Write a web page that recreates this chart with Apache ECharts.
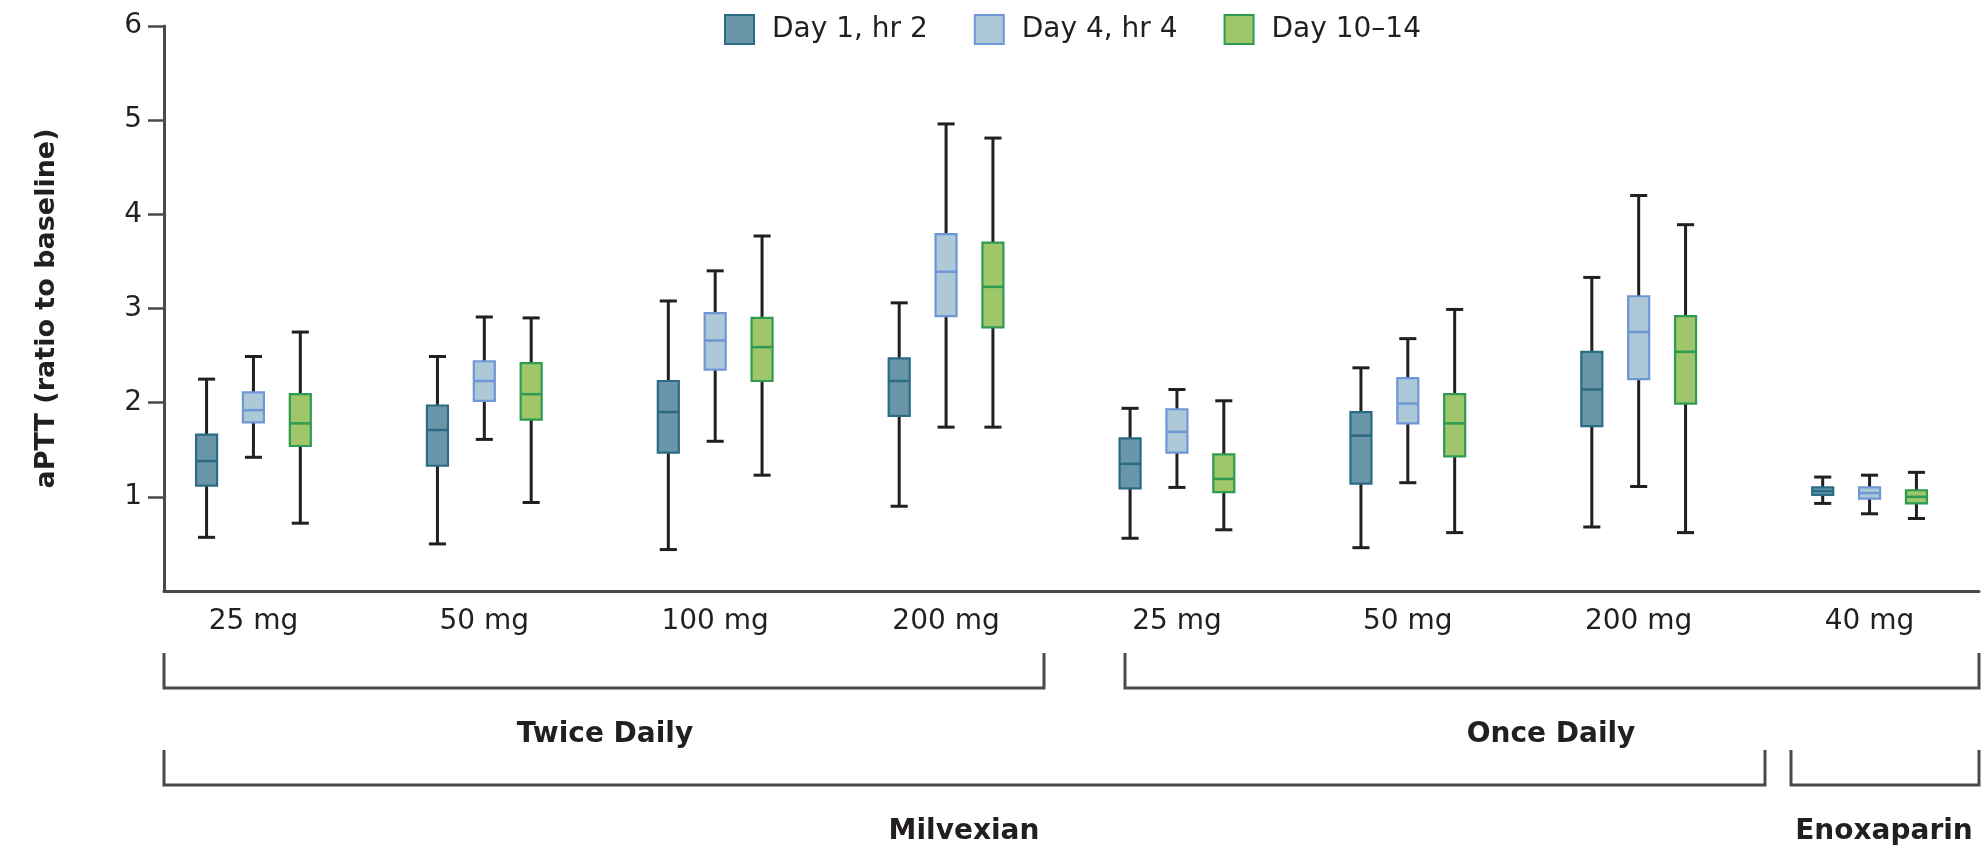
<!DOCTYPE html>
<html>
<head>
<meta charset="utf-8">
<title>aPTT ratio to baseline</title>
<script src="https://cdn.jsdelivr.net/npm/echarts@6.0.0/dist/echarts.min.js"></script>
<style>
  html, body { margin: 0; padding: 0; background: #ffffff; }
  #chart { width: 1985px; height: 852px; }
</style>
</head>
<body>
<div id="chart"></div>
<script>
// Dose groups along the x axis
const categories = ['25 mg', '50 mg', '100 mg', '200 mg', '25 mg', '50 mg', '200 mg', '40 mg'];
const yTicks = [1, 2, 3, 4, 5, 6];

// Box statistics per dose group: [min, Q1, median, Q3, max]
const day1Hr2 = [
  [0.57, 1.12, 1.38, 1.66, 2.25],
  [0.50, 1.33, 1.71, 1.97, 2.49],
  [0.44, 1.47, 1.90, 2.23, 3.08],
  [0.90, 1.86, 2.23, 2.47, 3.06],
  [0.56, 1.09, 1.35, 1.62, 1.94],
  [0.46, 1.14, 1.65, 1.90, 2.37],
  [0.68, 1.75, 2.14, 2.54, 3.33],
  [0.93, 1.02, 1.06, 1.10, 1.21]
];
const day4Hr4 = [
  [1.42, 1.79, 1.92, 2.11, 2.49],
  [1.61, 2.02, 2.23, 2.44, 2.91],
  [1.59, 2.35, 2.66, 2.95, 3.40],
  [1.74, 2.92, 3.39, 3.79, 4.96],
  [1.10, 1.47, 1.69, 1.93, 2.14],
  [1.15, 1.78, 1.99, 2.26, 2.68],
  [1.11, 2.25, 2.75, 3.13, 4.20],
  [0.82, 0.98, 1.04, 1.10, 1.23]
];
const day10to14 = [
  [0.72, 1.54, 1.78, 2.09, 2.75],
  [0.94, 1.82, 2.09, 2.42, 2.90],
  [1.23, 2.23, 2.59, 2.90, 3.77],
  [1.74, 2.80, 3.23, 3.70, 4.81],
  [0.65, 1.05, 1.19, 1.45, 2.02],
  [0.62, 1.43, 1.78, 2.09, 2.99],
  [0.62, 1.99, 2.54, 2.92, 3.89],
  [0.77, 0.93, 1.00, 1.07, 1.26]
];

const seriesNames = ['Day 1, hr 2', 'Day 4, hr 4', 'Day 10\u201314'];

const FONT = 'DejaVu Sans';
const INK = '#231f20';
const AXIS_GRAY = '#4a4a4a';

const styles = [
  { fill: '#6a96a9', stroke: '#2b6b84', offset: -0.203 },
  { fill: '#adc8d6', stroke: '#6e97d6', offset: 0 },
  { fill: '#9fc66b', stroke: '#2f9a52', offset: 0.203 }
];

const BOX_FRAC = 0.091;
const CAP_FRAC = 0.074;

function toRows(stats) {
  return stats.map((s, i) => [i].concat(s));
}

function boxRenderer(style) {
  return function (params, api) {
    const idx = api.value(0);
    const band = api.size([1, 0])[0];
    const cx = api.coord([idx, 0])[0] + style.offset * band;
    const yMin = api.coord([idx, api.value(1)])[1];
    const yQ1 = api.coord([idx, api.value(2)])[1];
    const yMed = api.coord([idx, api.value(3)])[1];
    const yQ3 = api.coord([idx, api.value(4)])[1];
    const yMax = api.coord([idx, api.value(5)])[1];
    const half = band * BOX_FRAC / 2;
    const cap = band * CAP_FRAC / 2;
    const whisker = { stroke: INK, lineWidth: 3 };
    return {
      type: 'group',
      children: [
        { type: 'line', shape: { x1: cx, y1: yMax, x2: cx, y2: yQ3 }, style: whisker },
        { type: 'line', shape: { x1: cx, y1: yQ1, x2: cx, y2: yMin }, style: whisker },
        { type: 'line', shape: { x1: cx - cap, y1: yMax, x2: cx + cap, y2: yMax }, style: whisker },
        { type: 'line', shape: { x1: cx - cap, y1: yMin, x2: cx + cap, y2: yMin }, style: whisker },
        {
          type: 'rect',
          shape: { x: cx - half, y: yQ3, width: half * 2, height: yQ1 - yQ3 },
          style: { fill: style.fill, stroke: style.stroke, lineWidth: 2.2 }
        },
        {
          type: 'line',
          shape: { x1: cx - half, y1: yMed, x2: cx + half, y2: yMed },
          style: { stroke: style.stroke, lineWidth: 2.5 }
        }
      ]
    };
  };
}

const allStats = [day1Hr2, day4Hr4, day10to14];

const series = allStats.map((stats, k) => ({
  name: seriesNames[k],
  type: 'custom',
  xAxisIndex: 0,
  yAxisIndex: 0,
  renderItem: boxRenderer(styles[k]),
  itemStyle: { color: styles[k].fill, borderColor: styles[k].stroke, borderWidth: 2 },
  encode: { x: 0, y: [1, 2, 3, 4, 5] },
  data: toRows(stats),
  z: 3
}));

// Group brackets beneath the dose labels
function bracket(x1, x2, yTop, yLine) {
  return {
    type: 'polyline',
    shape: { points: [[x1, yTop], [x1, yLine], [x2, yLine], [x2, yTop]] },
    style: { stroke: AXIS_GRAY, lineWidth: 3, fill: null }
  };
}
function groupLabel(text, x, y) {
  return {
    type: 'text',
    x: x,
    y: y,
    style: {
      text: text,
      font: 'bold 28px "' + FONT + '"',
      fill: INK,
      align: 'center',
      verticalAlign: 'middle'
    }
  };
}

const chart = echarts.init(document.getElementById('chart'));
chart.setOption({
  animation: false,
  backgroundColor: '#ffffff',
  textStyle: { fontFamily: FONT, color: INK },
  legend: {
    left: 719,
    top: 9,
    itemWidth: 29,
    itemHeight: 29,
    itemGap: 46,
    selectedMode: false,
    textStyle: { fontFamily: FONT, fontSize: 28, color: INK, padding: [0, 0, 0, 13] },
    data: seriesNames.map((n, k) => ({
      name: n,
      icon: 'rect',
      itemStyle: { color: styles[k].fill, borderColor: styles[k].stroke, borderWidth: 2 }
    }))
  },
  grid: [
    { left: 138, top: 26, width: 1853, height: 565 },
    { left: 164, top: 26, width: 1815, height: 565 }
  ],
  xAxis: [
    {
      type: 'category',
      gridIndex: 0,
      data: categories,
      axisLine: { show: false },
      axisTick: { show: false },
      axisLabel: { fontFamily: FONT, fontSize: 28, color: INK, margin: 17, interval: 0 }
    },
    {
      type: 'value',
      gridIndex: 1,
      min: 0,
      max: 1,
      axisLine: { show: true, onZero: false, lineStyle: { color: AXIS_GRAY, width: 3 } },
      axisTick: { show: false },
      axisLabel: { show: false },
      splitLine: { show: false }
    }
  ],
  yAxis: [
    {
      type: 'value',
      gridIndex: 0,
      min: 0,
      max: 6,
      show: false
    },
    {
      type: 'value',
      gridIndex: 1,
      min: 0,
      max: 6,
      interval: 1,
      name: 'aPTT (ratio to baseline)',
      nameLocation: 'middle',
      nameRotate: 90,
      nameGap: 104,
      nameTextStyle: { fontFamily: FONT, fontSize: 27, fontWeight: 'bold', color: INK },
      axisLine: { show: true, onZero: false, lineStyle: { color: AXIS_GRAY, width: 3 } },
      axisTick: { show: true, length: 16, customValues: yTicks, lineStyle: { color: AXIS_GRAY, width: 2.5 } },
      axisLabel: { fontFamily: FONT, fontSize: 28, color: INK, margin: 22, customValues: yTicks },
      splitLine: { show: false }
    }
  ],
  series: series,
  graphic: [
    bracket(164, 1044, 653, 688),
    bracket(1125, 1979, 653, 688),
    groupLabel('Twice Daily', 605, 735),
    groupLabel('Once Daily', 1551, 735),
    bracket(164, 1765, 750, 785),
    bracket(1791, 1979, 750, 785),
    groupLabel('Milvexian', 964, 832),
    groupLabel('Enoxaparin', 1884, 832)
  ]
});
</script>
</body>
</html>
